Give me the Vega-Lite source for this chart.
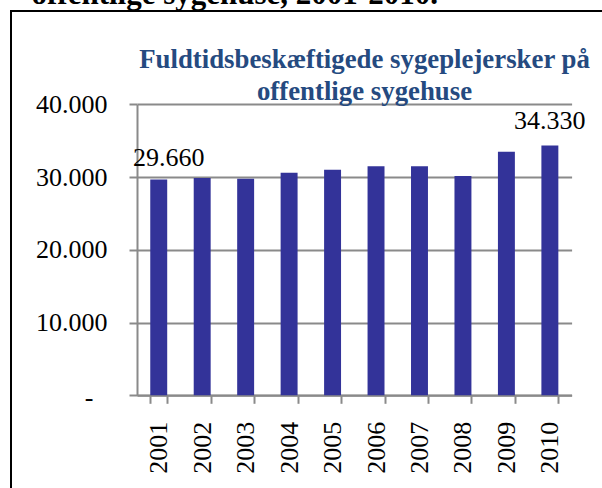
{
  "$schema": "https://vega.github.io/schema/vega-lite/v6.json",
  "width": 601,
  "height": 487,
  "autosize": {"type": "none"},
  "padding": {"left": 11, "top": 11, "right": -10, "bottom": -10},
  "background": "white",
  "config": {
    "view": {"stroke": "black", "strokeWidth": 2},
    "locale": {"number": {"decimal": ",", "thousands": ".", "grouping": [3], "currency": ["", " kr."]}},
    "font": "Liberation Serif"
  },
  "title": {
    "text": ["Fuldtidsbeskæftigede sygeplejersker på", "offentlige sygehuse"],
    "font": "Liberation Serif",
    "fontSize": 26.8,
    "fontWeight": "bold",
    "color": "#254a80",
    "anchor": "middle",
    "frame": "group",
    "dx": 53,
    "offset": -155,
    "baseline": "bottom",
    "lineHeight": 32
  },
  "data": {
    "values": [
      {"year": "2001", "value": 29660},
      {"year": "2002", "value": 29870},
      {"year": "2003", "value": 29780},
      {"year": "2004", "value": 30600},
      {"year": "2005", "value": 31010},
      {"year": "2006", "value": 31480},
      {"year": "2007", "value": 31480},
      {"year": "2008", "value": 30140},
      {"year": "2009", "value": 33490},
      {"year": "2010", "value": 34330}
    ]
  },
  "encoding": {
    "x": {
      "field": "year",
      "type": "ordinal",
      "scale": {"range": [126, 560.6], "paddingInner": 0.61, "paddingOuter": 0.305},
      "axis": {
        "offset": -102.7,
        "tickBand": "extent",
        "grid": false,
        "domainColor": "#8a8a8a",
        "domainWidth": 2,
        "tickColor": "#8a8a8a",
        "tickWidth": 2,
        "tickSize": 8,
        "labelAngle": -90,
        "labelAlign": "right",
        "labelBaseline": "middle",
        "labelPadding": 18,
        "labelFont": "Liberation Serif",
        "labelFontSize": 26,
        "labelColor": "black",
        "title": null
      }
    },
    "y": {
      "field": "value",
      "type": "quantitative",
      "scale": {"domain": [0, 40000], "range": [384.3, 93.3], "nice": false, "zero": true},
      "axis": {
        "values": [0, 10000, 20000, 30000, 40000],
        "offset": -126,
        "grid": true,
        "gridColor": "#8a8a8a",
        "gridWidth": 2,
        "domainColor": "#8a8a8a",
        "domainWidth": 2,
        "tickColor": "#8a8a8a",
        "tickWidth": 2,
        "tickSize": 8,
        "labelFont": "Liberation Serif",
        "labelFontSize": 26,
        "labelColor": "black",
        "labelPadding": {"condition": {"test": "datum.value == 0", "value": 36}, "value": 22},
        "labelOffset": {"condition": {"test": "datum.value == 0", "value": 2}, "value": 0},
        "labelExpr": "datum.value == 0 ? '-' : replace(format(datum.value, ','), ',', '.')",
        "title": "offentlige sygehuse, 2001-2010.",
        "titleFont": "Liberation Serif",
        "titleFontSize": 31,
        "titleFontWeight": "bold",
        "titleColor": "black",
        "titleAngle": 0,
        "titleAlign": "left",
        "titleBaseline": "alphabetic",
        "titleX": -106,
        "titleY": -8
      }
    }
  },
  "layer": [
    {"mark": {"type": "bar", "color": "#333399"}},
    {
      "transform": [{"filter": "datum.year == '2001'"}],
      "mark": {"type": "text", "dx": 10, "dy": -14, "baseline": "alphabetic", "fontSize": 26, "font": "Liberation Serif", "color": "black"},
      "encoding": {"text": {"field": "value", "type": "quantitative", "format": ","}}
    },
    {
      "transform": [{"filter": "datum.year == '2010'"}],
      "mark": {"type": "text", "dx": 0, "dy": -17, "baseline": "alphabetic", "fontSize": 26, "font": "Liberation Serif", "color": "black"},
      "encoding": {"text": {"field": "value", "type": "quantitative", "format": ","}}
    }
  ]
}
